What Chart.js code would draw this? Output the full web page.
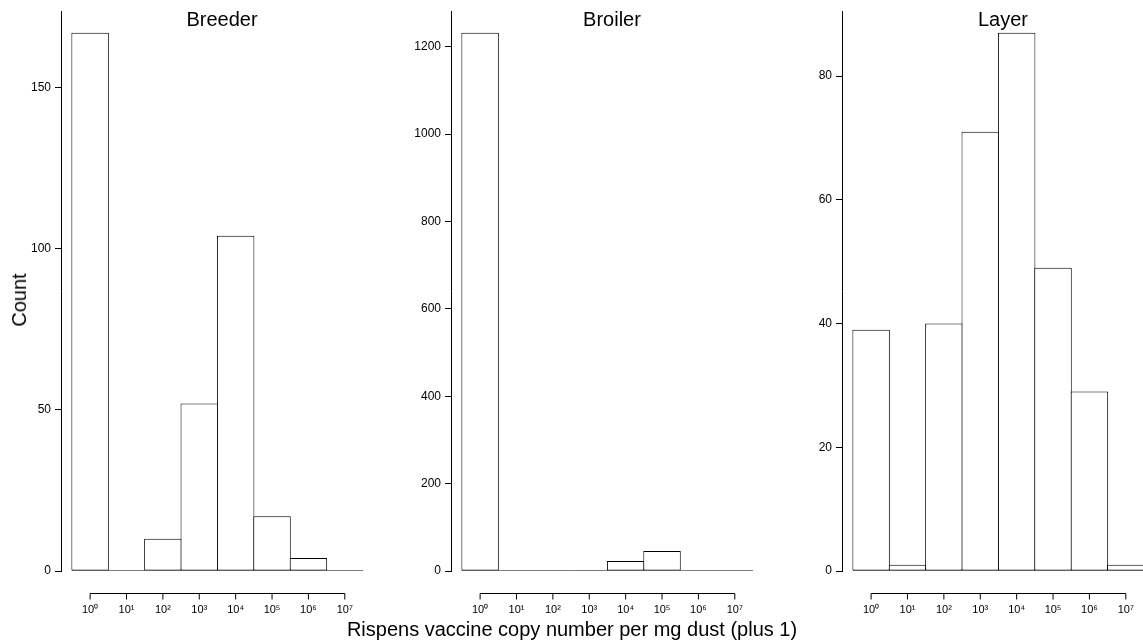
<!DOCTYPE html>
<html lang="en">
<head>
    <meta charset="UTF-8">
    <title>Rispens vaccine in dust</title>
    <style>
        html, body { margin: 0; padding: 0; background: #fff; overflow: hidden; }
        body { width: 1143px; height: 643px; position: relative; font-family: "Liberation Sans", Arial, sans-serif; color: #000; }
        canvas { position: absolute; top: 0; }
        .label { position: absolute; font-size: 20px; line-height: 20px; white-space: nowrap; }
        #ylabel { left: 19px; top: 300px; transform: translate(-50%, -50%) rotate(-90deg); }
        #xlabel { left: 572px; top: 619px; transform: translateX(-50%); }
    </style>
</head>
<body>

    <canvas id="breeder" width="363" height="643" style="left:0px"></canvas>
    <canvas id="broiler" width="363" height="643" style="left:390px"></canvas>
    <canvas id="layer" width="363" height="643" style="left:781px"></canvas>

    <div class="label" id="ylabel">Count</div>
    <div class="label" id="xlabel">Rispens vaccine copy number per mg dust (plus 1)</div>

    <script src="https://cdn.jsdelivr.net/npm/chart.js@4.4.1/dist/chart.umd.min.js"></script>
    <script>
        // bins are one decade wide, centred on log10(copies + 1)
        var decades = [0, 1, 2, 3, 4, 5, 6, 7];
        var tickLabels = ['10\u2070', '10\u00b9', '10\u00b2', '10\u00b3', '10\u2074', '10\u2075', '10\u2076', '10\u2077'];

        var breederCounts = [167, 0, 10, 52, 104, 17, 4, 0];
        var broilerCounts = [1232, 0, 0, 2, 23, 46, 1, 0];
        var layerCounts = [39, 1, 40, 71, 87, 49, 29, 1];

        Chart.defaults.font.family = '"Liberation Sans", Arial, sans-serif';
        Chart.defaults.color = '#000';

        // panel name drawn inside the top of the plot
        var panelTitle = {
            id: 'panelTitle',
            afterDraw: function (chart, args, opts) {
                var ctx = chart.ctx;
                ctx.save();
                ctx.font = '20px "Liberation Sans", Arial, sans-serif';
                ctx.fillStyle = '#000';
                ctx.textAlign = 'center';
                ctx.textBaseline = 'alphabetic';
                ctx.fillText(opts.text, chart.chartArea.left + 161, chart.chartArea.top + 14.5);
                ctx.restore();
            }
        };

        // separate decade axis hung below the bars, ticks pointing down
        var decadeAxis = {
            id: 'decadeAxis',
            afterDraw: function (chart) {
                var ctx = chart.ctx;
                var x = chart.scales.x;
                var y0 = Math.round(chart.chartArea.bottom + 22) + 0.5;
                ctx.save();
                ctx.strokeStyle = '#000';
                ctx.lineWidth = 1;
                ctx.beginPath();
                ctx.moveTo(x.getPixelForValue(decades[0]), y0);
                ctx.lineTo(x.getPixelForValue(decades[decades.length - 1]), y0);
                decades.forEach(function (d) {
                    var px = x.getPixelForValue(d);
                    ctx.moveTo(px, y0);
                    ctx.lineTo(px, y0 + 6);
                });
                ctx.stroke();
                ctx.restore();
            }
        };

        function createPanel(id, name, counts, step) {
            var first = decades[0] - 0.5;
            var last = decades[decades.length - 1] + 0.5;
            var ctx = document.getElementById(id).getContext('2d');
            return new Chart(ctx, {
                data: {
                    datasets: [{
                        type: 'bar',
                        data: decades.map(function (d, i) { return { x: d, y: counts[i] }; }),
                        backgroundColor: '#fff',
                        borderColor: '#000',
                        borderWidth: 1,
                        borderSkipped: false,
                        barPercentage: 1.03,
                        categoryPercentage: 1,
                        order: 2
                    }, {
                        // bin floor, so empty bins still show as a line
                        type: 'line',
                        data: [{ x: first, y: 0 }, { x: last, y: 0 }],
                        borderColor: '#000',
                        borderWidth: 1,
                        pointRadius: 0,
                        order: 1
                    }]
                },
                options: {
                    responsive: false,
                    animation: false,
                    devicePixelRatio: 1,
                    layout: { padding: { top: 9, right: 0, bottom: 0, left: 0 } },
                    plugins: {
                        legend: { display: false },
                        tooltip: { enabled: false },
                        panelTitle: { text: name }
                    },
                    scales: {
                        x: {
                            type: 'linear',
                            offset: false,
                            min: first - 0.3,
                            max: last,
                            afterBuildTicks: function (s) {
                                s.ticks = decades.map(function (d) { return { value: d }; });
                            },
                            afterFit: function (s) { s.height = 72; },
                            ticks: {
                                autoSkip: false,
                                maxRotation: 0,
                                padding: 2,
                                font: { size: 11 },
                                callback: function (v, i) { return tickLabels[i]; }
                            },
                            // hidden grid; its tick length only pushes labels below the decade axis
                            grid: { display: false, drawTicks: true, tickLength: 30 },
                            border: { display: false }
                        },
                        y: {
                            min: 0,
                            max: Math.max.apply(null, counts) * 1.04,
                            afterFit: function (s) { s.width = 61; },
                            ticks: {
                                stepSize: step,
                                includeBounds: false,
                                padding: 4,
                                font: { size: 12 },
                                callback: function (v) { return String(v); }
                            },
                            grid: { drawOnChartArea: false, drawTicks: true, tickLength: 6, color: '#000' },
                            border: { display: true, color: '#000', width: 1 }
                        }
                    }
                },
                plugins: [panelTitle, decadeAxis]
            });
        }

        createPanel('breeder', 'Breeder', breederCounts, 50);
        createPanel('broiler', 'Broiler', broilerCounts, 200);
        createPanel('layer', 'Layer', layerCounts, 20);
    </script>

</body>
</html>
